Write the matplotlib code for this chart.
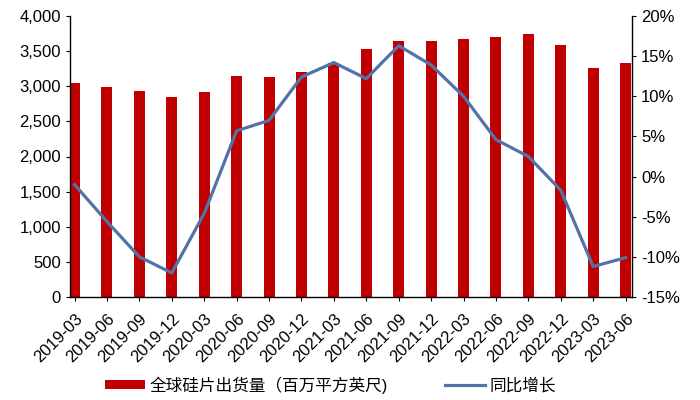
import matplotlib
matplotlib.use("Agg")
import matplotlib.pyplot as plt
from matplotlib.ticker import FuncFormatter, MultipleLocator

plt.rcParams['font.family'] = ['Liberation Sans', 'Noto Sans CJK SC']

quarters = ['2019-03', '2019-06', '2019-09', '2019-12', '2020-03', '2020-06',
            '2020-09', '2020-12', '2021-03', '2021-06', '2021-09', '2021-12',
            '2022-03', '2022-06', '2022-09', '2022-12', '2023-03', '2023-06']
shipments = [3051, 2983, 2937, 2851, 2923, 3152, 3135, 3208, 3337, 3534, 3649,
             3649, 3679, 3704, 3749, 3589, 3265, 3331]
yoy = [-1.0, -5.6, -10.0, -12.0, -4.6, 5.7, 7.0, 12.4, 14.2, 12.2, 16.3, 13.9,
       10.0, 4.6, 2.5, -1.7, -11.2, -10.1]

bar_label = '全球硅片出货量（百万平方英尺)'
line_label = '同比增长'

fig = plt.figure(figsize=(7, 4), dpi=100)
ax = fig.add_axes([0.1, 0.2575, 0.803, 0.7025])
x = list(range(len(quarters)))
bars = ax.bar(x, shipments, width=0.34, color='#C00000', label=bar_label, zorder=2)
ax.set_ylim(0, 4000)
ax.yaxis.set_major_locator(MultipleLocator(500))
ax.yaxis.set_major_formatter(FuncFormatter(lambda v, p: f'{int(v):,}'))
ax.set_xlim(-0.14, 17.2)
ax.set_xticks(x)
ax.set_xticklabels(quarters, rotation=45, ha='right', rotation_mode='anchor')
ax.tick_params(axis='both', labelsize=12, length=3, width=0.8, color='black')
ax.tick_params(axis='x', pad=7)
ax.spines['top'].set_visible(False)
ax.spines['right'].set_visible(False)
for s in ['left', 'bottom']:
    ax.spines[s].set_linewidth(1.0)

ax2 = ax.twinx()
line, = ax2.plot(x, yoy, color='#5372A8', linewidth=2.3, label=line_label, zorder=3)
ax2.set_ylim(-15, 20)
ax2.yaxis.set_major_locator(MultipleLocator(5))
ax2.yaxis.set_major_formatter(FuncFormatter(lambda v, p: f'{int(round(v))}%'))
ax2.tick_params(axis='y', labelsize=12, length=3, width=0.8)
ax2.spines['top'].set_visible(False)
ax2.spines['left'].set_visible(False)
ax2.spines['bottom'].set_visible(False)
ax2.spines['right'].set_linewidth(1.0)

fig.legend([bars, line], [bar_label, line_label], loc='center',
           bbox_to_anchor=(0.472, 0.0375), ncol=2, frameon=False, fontsize=12,
           handlelength=2.4, handleheight=0.45, handletextpad=0.3, columnspacing=3.4)

fig.savefig('out.png', dpi=100)
